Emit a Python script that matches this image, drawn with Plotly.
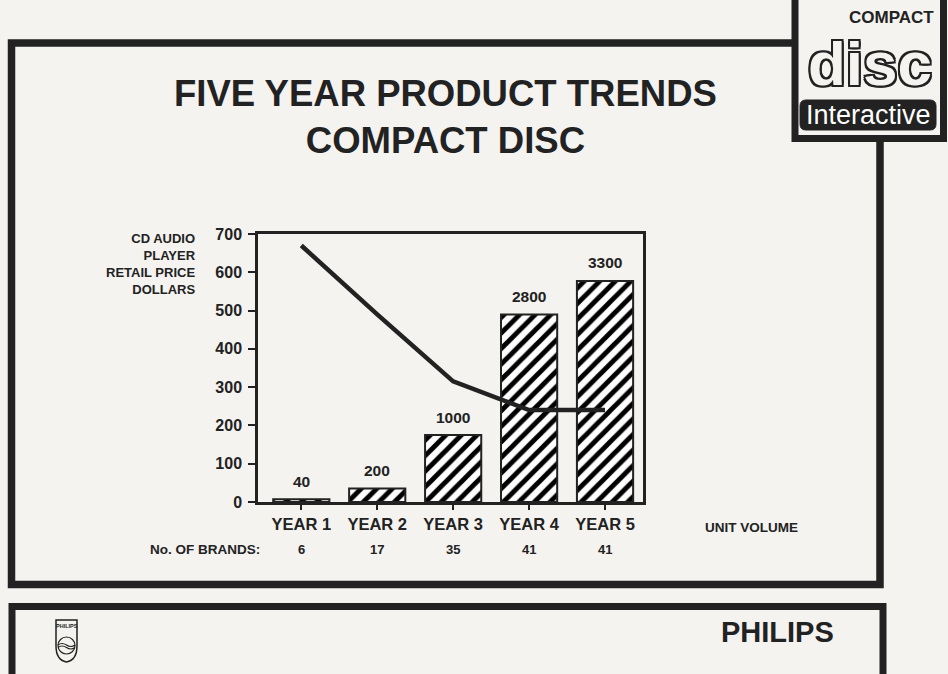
import plotly.graph_objects as go

# ---------------- data ----------------
years = ["YEAR 1", "YEAR 2", "YEAR 3", "YEAR 4", "YEAR 5"]
unit_volume = [40, 200, 1000, 2800, 3300]          # bars (unit volume)
retail_price = [670, 490, 315, 240, 240]            # line (dollars)
brands = [6, 17, 35, 41, 41]
price_ticks = [0, 100, 200, 300, 400, 500, 600, 700]

W, H = 948, 674
PAPER = "#f4f3f0"
INK = "#222222"
FONT = "Liberation Sans, Arial, Helvetica, sans-serif"


def X(px):
    return px / W


def Y(py):
    return 1 - py / H


xs = list(range(len(years)))

fig = go.Figure()

fig.add_trace(go.Bar(
    x=xs, y=unit_volume, yaxis="y", width=0.74,
    marker=dict(color="white", line=dict(color=INK, width=2),
                pattern=dict(shape="/", fgcolor="#000000", bgcolor="white",
                             fgopacity=1, size=11, solidity=0.45)),
    hoverinfo="skip", showlegend=False,
))

fig.add_trace(go.Scatter(
    x=xs, y=retail_price, yaxis="y2", mode="lines",
    line=dict(color=INK, width=4.5),
    hoverinfo="skip", showlegend=False,
))

annotations = []


def txt(x, y, text, size, xref="paper", yref="paper", xanchor="center",
        yanchor="middle", **kw):
    d = dict(x=x, y=y, xref=xref, yref=yref, text=text, showarrow=False,
             xanchor=xanchor, yanchor=yanchor)
    font = dict(family=FONT, size=size, color=INK, weight="bold")
    font.update(kw.pop("font", {}))
    d["font"] = font
    d.update(kw)
    annotations.append(d)


# bar value labels
for i, v in enumerate(unit_volume):
    txt(i, v, str(v), 15.5, xref="x", yref="y", yshift=18)
# brands row
txt(X(262), Y(549), "No. OF BRANDS:", 13.5, xanchor="right")
for i, b in enumerate(brands):
    txt(i, Y(549), str(b), 13, xref="x")
# unit volume label
txt(X(751), Y(527), "UNIT VOLUME", 13.5)
# y-axis title
txt(X(198), Y(264), "CD AUDIO<br>PLAYER<br>RETAIL PRICE<br>DOLLARS", 13,
    xanchor="right", align="right")
# title
txt(X(445), Y(117), "FIVE YEAR PRODUCT TRENDS<br>COMPACT DISC", 36.5, align="center")
# logo texts
txt(X(891), Y(17), "COMPACT", 17)
outline = ",".join(f"{dx}px {dy}px 0 {INK}" for dx, dy in
                   [(2, 0), (-2, 0), (0, 2), (0, -2), (2, 2), (-2, -2), (2, -2), (-2, 2)])
txt(X(870), Y(64), "disc", 62, font=dict(color=PAPER, shadow=outline))
txt(X(868), Y(115), "Interactive", 27, font=dict(color="white", weight="normal"))
# Philips
txt(X(777), Y(632), "PHILIPS", 29)
txt(X(66.5), Y(626), "PHILIPS", 5.5)

shapes = []


def rect(x0, y0, x1, y1, width, fill=None):
    d = dict(type="rect", xref="paper", yref="paper",
             x0=X(x0), x1=X(x1), y0=Y(y0), y1=Y(y1),
             line=dict(color=INK, width=width), layer="above")
    if fill:
        d["fillcolor"] = fill
    shapes.append(d)


# main frame
rect(11.5, 43, 880, 584.5, 7.5)
# bottom strip
rect(12, 606.5, 883, 700, 7)
# logo box (covers frame corner)
rect(795, -4, 943.5, 138.5, 7, fill=PAPER)


def rrect(x0, y0, x1, y1, r):
    return (f"M {X(x0 + r)},{Y(y0)} L {X(x1 - r)},{Y(y0)} Q {X(x1)},{Y(y0)} {X(x1)},{Y(y0 + r)} "
            f"L {X(x1)},{Y(y1 - r)} Q {X(x1)},{Y(y1)} {X(x1 - r)},{Y(y1)} "
            f"L {X(x0 + r)},{Y(y1)} Q {X(x0)},{Y(y1)} {X(x0)},{Y(y1 - r)} "
            f"L {X(x0)},{Y(y0 + r)} Q {X(x0)},{Y(y0)} {X(x0 + r)},{Y(y0)} Z")


shapes.append(dict(type="path", xref="paper", yref="paper",
                   path=rrect(800, 100, 936, 130, 6),
                   fillcolor=INK, line=dict(color=INK, width=1), layer="above"))

# Philips shield
shield = (f"M {X(56)},{Y(620)} L {X(77)},{Y(620)} L {X(77)},{Y(646)} "
          f"Q {X(77)},{Y(660)} {X(66.5)},{Y(662)} Q {X(56)},{Y(660)} {X(56)},{Y(646)} Z")
shapes.append(dict(type="path", xref="paper", yref="paper", path=shield,
                   line=dict(color=INK, width=1.5), layer="above"))
shapes.append(dict(type="circle", xref="paper", yref="paper",
                   x0=X(58), x1=X(75), y0=Y(637), y1=Y(654),
                   line=dict(color=INK, width=1.2), layer="above"))
for dy in (0, 2.5):
    wave = (f"M {X(58)},{Y(645 + dy)} Q {X(62)},{Y(642 + dy)} {X(66.5)},{Y(645 + dy)} "
            f"Q {X(71)},{Y(648 + dy)} {X(75)},{Y(645 + dy)}")
    shapes.append(dict(type="path", xref="paper", yref="paper", path=wave,
                       line=dict(color=INK, width=1.2), layer="above"))

fig.update_layout(
    width=W, height=H,
    margin=dict(l=0, r=0, t=0, b=0, autoexpand=False),
    paper_bgcolor=PAPER, plot_bgcolor=PAPER,
    showlegend=False,
    xaxis=dict(domain=[X(258), X(643)], range=[-0.57, 4.5],
               tickvals=xs, ticktext=years, ticks="outside", ticklen=5,
               tickwidth=1.5, tickcolor=INK,
               tickfont=dict(family=FONT, size=16.5, color=INK, weight="bold"),
               showline=True, linecolor=INK, linewidth=2.5, mirror=True,
               showgrid=False, zeroline=False, fixedrange=True),
    yaxis=dict(domain=[Y(502), Y(234)], range=[0, 4000], visible=False,
               fixedrange=True),
    yaxis2=dict(overlaying="y", side="left", range=[0, 700],
                tickvals=price_ticks, ticks="outside", ticklen=7, tickwidth=2,
                tickcolor=INK, ticklabelstandoff=3,
                tickfont=dict(family=FONT, size=16, color=INK, weight="bold"),
                showline=True, linecolor=INK, linewidth=2.5, mirror=True,
                showgrid=False, zeroline=False, fixedrange=True),
    annotations=annotations,
    shapes=shapes,
)

fig.write_html("out.html")
